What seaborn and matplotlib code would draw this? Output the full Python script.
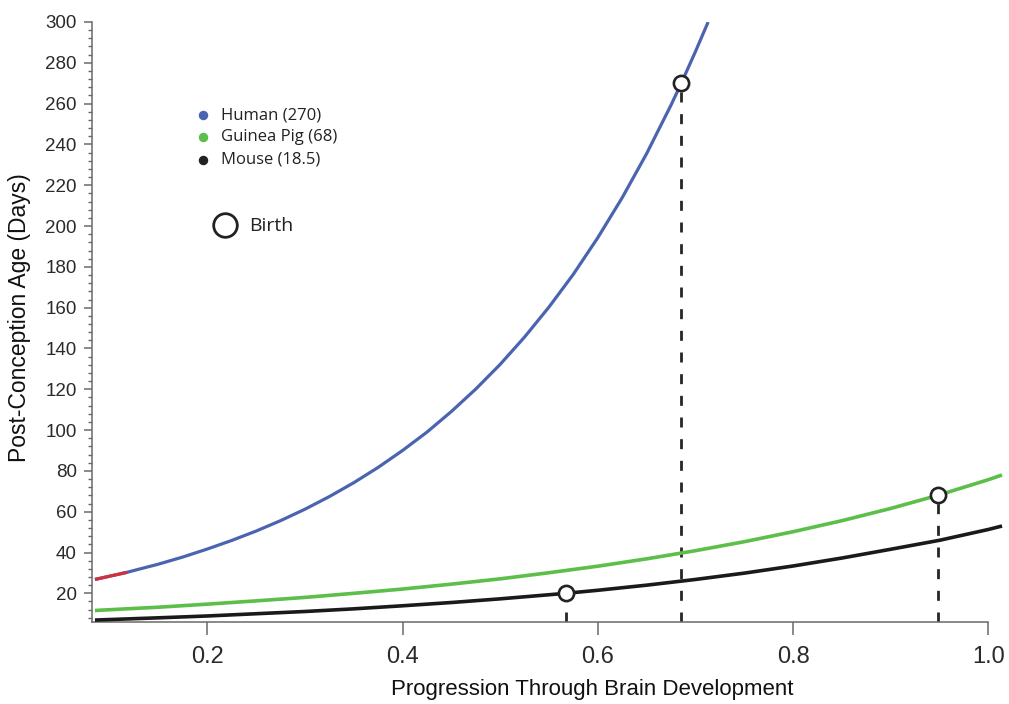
import numpy as np
import pandas as pd
import matplotlib
matplotlib.use("Agg")
import matplotlib.pyplot as plt
from matplotlib.lines import Line2D
from matplotlib.ticker import MultipleLocator, FixedLocator
import seaborn as sns

# ---- data ----
human_x = [0.085, 0.10, 0.118, 0.125, 0.15, 0.175, 0.20, 0.225, 0.25, 0.275, 0.30, 0.325,
           0.35, 0.375, 0.40, 0.425, 0.45, 0.475, 0.50, 0.525, 0.55, 0.575, 0.60,
           0.625, 0.65, 0.675, 0.6855, 0.70, 0.713]
human_y = [26.8, 28.4, 30.3, 31.2, 34.3, 37.8, 41.7, 45.9, 50.5, 55.6, 61.2, 67.4,
           74.2, 81.7, 90.0, 99.0, 109.1, 120.1, 132.2, 145.6, 160.3, 176.4, 194.3,
           213.9, 235.5, 259.3, 270, 285.5, 300]

guinea_x = [0.085, 0.15, 0.20, 0.25, 0.30, 0.35, 0.40, 0.45, 0.50, 0.55, 0.60, 0.65,
            0.70, 0.75, 0.80, 0.85, 0.90, 0.948, 1.0, 1.014]
guinea_y = [11.6, 13.2, 14.7, 16.3, 18.0, 20.0, 22.1, 24.5, 27.1, 30.1, 33.3, 36.9,
            40.9, 45.3, 50.2, 55.6, 61.6, 68, 75.7, 78.0]

mouse_x = [0.085, 0.15, 0.20, 0.25, 0.30, 0.35, 0.40, 0.45, 0.50, 0.567, 0.60, 0.65,
           0.70, 0.75, 0.80, 0.85, 0.90, 0.95, 1.0, 1.014]
mouse_y = [6.9, 8.0, 8.9, 10.0, 11.1, 12.4, 13.9, 15.5, 17.3, 20, 21.5, 24.0,
           26.8, 29.9, 33.4, 37.3, 41.6, 46.0, 51.3, 53.0]

birth_x = [0.6855, 0.948, 0.567]
birth_y = [270, 68, 20]

legend_labels = ["Human (270)", "Guinea Pig (68)", "Mouse (18.5)"]
x_ticks = [0.2, 0.4, 0.6, 0.8, 1.0]
y_ticks = list(range(20, 301, 20))

C_BLUE = "#4a64b0"
C_GREEN = "#5cbf4a"
C_BLACK = "#1a1a1a"
C_RED = "#d2303c"

sns.set_style("ticks")
plt.rcParams["font.family"] = ["Liberation Sans", "DejaVu Sans"]

W, H = 1009, 704
fig = plt.figure(figsize=(W / 100, H / 100), dpi=100)
ax = fig.add_axes([92 / W, 1 - 621.7 / H, (1004 - 92) / W, (621.7 - 22) / H])

XMIN, XMAX, YMIN, YMAX = 0.082, 1.016, 6.1, 300

df_h = pd.DataFrame({"x": human_x, "y": human_y})
df_g = pd.DataFrame({"x": guinea_x, "y": guinea_y})
df_m = pd.DataFrame({"x": mouse_x, "y": mouse_y})

line_kw = dict(ax=ax, sort=False, estimator=None, solid_joinstyle="round", solid_capstyle="butt")
sns.lineplot(data=df_m, x="x", y="y", color=C_BLACK, lw=2.6, zorder=3, **line_kw)
sns.lineplot(data=df_g, x="x", y="y", color=C_GREEN, lw=2.6, zorder=3, **line_kw)
sns.lineplot(data=df_h, x="x", y="y", color=C_BLUE, lw=2.3, zorder=3, **line_kw)
sns.lineplot(data=df_h.iloc[:3], x="x", y="y", color=C_RED, lw=2.3, zorder=3.5, **line_kw)

# dashed drop lines from birth points
for bx, by in zip(birth_x, birth_y):
    ax.plot([bx, bx], [YMIN, by], color="#262626", lw=2.0, dashes=(3.6, 4.2), zorder=2,
            dash_capstyle="butt")

sns.scatterplot(x=birth_x, y=birth_y, ax=ax, s=120, facecolor="white", edgecolor="#222222",
                linewidth=1.9, zorder=6)

ax.set_xlim(XMIN, XMAX)
ax.set_ylim(YMIN, YMAX)
ax.spines["top"].set_visible(False)
ax.spines["right"].set_visible(False)
ax.spines["bottom"].set_bounds(XMIN, 1.0)
for s in ["left", "bottom"]:
    ax.spines[s].set_color("#6a6a6a")
    ax.spines[s].set_linewidth(1.1)

ax.xaxis.set_major_locator(FixedLocator(x_ticks))
ax.set_xticklabels([f"{t:.1f}" for t in x_ticks])
ax.yaxis.set_major_locator(FixedLocator(y_ticks))
ax.yaxis.set_minor_locator(MultipleLocator(4))
ax.tick_params(axis="x", which="major", length=9.5, width=1.1, color="#6a6a6a",
               labelsize=17, labelcolor="#2a2a2a", pad=8)
ax.tick_params(axis="y", which="major", length=6, width=1.1, color="#6a6a6a",
               labelsize=13.5, labelcolor="#2a2a2a", pad=5)
ax.tick_params(axis="y", which="minor", length=3.2, width=1.0, color="#6a6a6a")
ax.set_xlabel("")
ax.set_ylabel("")

fig.text(592 / W, 1 - 689 / H, "Progression Through Brain Development", ha="center", va="center",
         fontsize=16, color="#111111")
fig.text(20 / W, 1 - 318 / H, "Post-Conception Age (Days)", ha="center", va="center",
         rotation=90, fontsize=16.5, color="#111111")

# manual legend
leg_colors = [C_BLUE, C_GREEN, "#222222"]
leg_y = [115, 137, 160]
for lab, col, yy in zip(legend_labels, leg_colors, leg_y):
    fig.add_artist(Line2D([203 / W], [1 - yy / H], marker="o", markersize=5.8, color=col,
                          linestyle="none", transform=fig.transFigure))
    fig.text(221 / W, 1 - yy / H, lab, ha="left", va="center", fontsize=12,
             family=["Open Sans", "DejaVu Sans"], color="#222222")

fig.add_artist(Line2D([225 / W], [1 - 225 / H], marker="o", markersize=17, markerfacecolor="white",
                      markeredgecolor="#222222", markeredgewidth=2.0, linestyle="none",
                      transform=fig.transFigure))
fig.text(249 / W, 1 - 226 / H, "Birth", ha="left", va="center", fontsize=14,
         family=["Open Sans", "DejaVu Sans"], color="#222222")

fig.savefig("out.png", dpi=100)
